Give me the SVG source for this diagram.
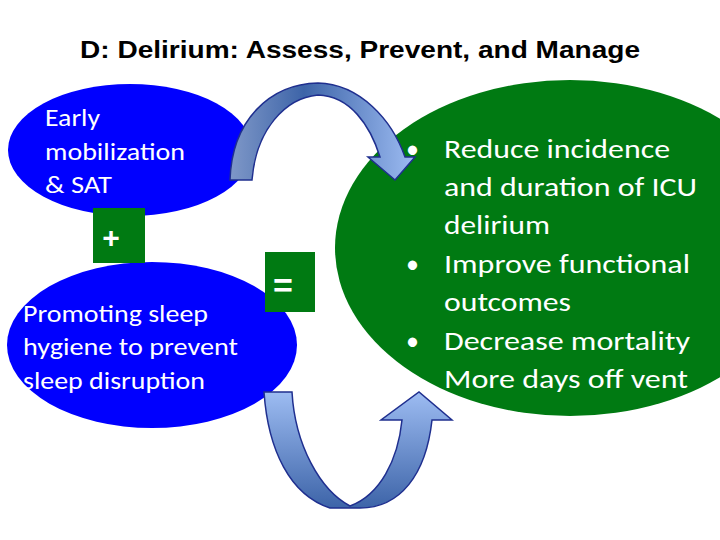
<svg xmlns="http://www.w3.org/2000/svg" width="720" height="540" viewBox="0 0 720 540">
<defs>
<linearGradient id="ga" x1="0" y1="0" x2="1" y2="0"><stop offset="0" stop-color="#7f98c8"/><stop offset="0.4" stop-color="#3d64a8"/><stop offset="1" stop-color="#9dbcf2"/></linearGradient>
<linearGradient id="gb" x1="0" y1="0" x2="0" y2="1"><stop offset="0" stop-color="#9dbcf2"/><stop offset="1" stop-color="#3d64a8"/></linearGradient>
</defs>
<style>
.t{font-family:"Liberation Sans",Arial,sans-serif}
.c{font-family:Calibri,"Carlito","Open Sans","Liberation Sans",sans-serif}
.c text{}
.arr{stroke:#1f2f8f;stroke-width:1.5}
</style>
<rect width="720" height="540" fill="#fff"/>
<text class="t" x="80" y="58" textLength="560" lengthAdjust="spacingAndGlyphs" font-size="24" font-weight="bold">D: Delirium: Assess, Prevent, and Manage</text>
<g id="outcomes"><ellipse cx="570" cy="248" rx="235" ry="168" fill="#007a12"/>
<g class="c" font-size="26" fill="#fff">
<text x="406" y="158">•</text><text x="444" y="158" textLength="226" lengthAdjust="spacingAndGlyphs">Reduce incidence</text>
<text x="444" y="196" textLength="253" lengthAdjust="spacingAndGlyphs">and duration of ICU</text>
<text x="444" y="234" textLength="106" lengthAdjust="spacingAndGlyphs">delirium</text>
<text x="406" y="273">•</text><text x="444" y="273" textLength="246" lengthAdjust="spacingAndGlyphs">Improve functional</text>
<text x="444" y="311" textLength="127" lengthAdjust="spacingAndGlyphs">outcomes</text>
<text x="406" y="350">•</text><text x="444" y="350" textLength="246" lengthAdjust="spacingAndGlyphs">Decrease mortality</text>
<text x="406" y="388">•</text><text x="444" y="388" textLength="244" lengthAdjust="spacingAndGlyphs">More days off vent</text>
</g></g>
<g id="mobilization"><ellipse cx="130" cy="150" rx="122" ry="66" fill="#0000ff"/>
<g class="c" font-size="24" fill="#fff"><text x="45" y="126" textLength="55" lengthAdjust="spacingAndGlyphs">Early</text><text x="45" y="160" textLength="140" lengthAdjust="spacingAndGlyphs">mobilization</text><text x="45" y="193" textLength="67" lengthAdjust="spacingAndGlyphs">&amp; SAT</text></g></g>
<g id="sleep"><ellipse cx="152" cy="345" rx="145" ry="83" fill="#0000ff"/>
<g class="c" font-size="24" fill="#fff"><text x="23" y="322" textLength="185" lengthAdjust="spacingAndGlyphs">Promoting sleep</text><text x="23" y="355" textLength="215" lengthAdjust="spacingAndGlyphs">hygiene to prevent</text><text x="23" y="389" textLength="182" lengthAdjust="spacingAndGlyphs">sleep disruption</text></g></g>
<g id="plus"><rect x="93" y="208" width="52" height="55" fill="#007a12"/><text class="t" x="111" y="248" text-anchor="middle" font-size="30" font-weight="bold" fill="#fff">+</text></g>
<g id="equals"><rect x="265" y="252" width="50" height="60" fill="#007a12"/><text class="t" x="283" y="297" text-anchor="middle" font-size="34" font-weight="bold" fill="#fff">=</text></g>
<g id="connectors">
<path class="arr" fill="url(#ga)" d="M230,180 C232,120 270,84 318,83 C360,84 392,120 405,157 L415,157 L395,180 L368,157 L380,157 C370,125 350,96 318,95 C285,98 256,130 252,180 Z"/>
<path class="arr" fill="url(#gb)" d="M264,392 L292,392 C295,445 320,490 350,506 C380,495 398,460 402,420 L381,420 L419,392 L452,420 L432,420 C426,475 400,508 360,508 L330,508 C290,495 268,450 264,392 Z"/>
</g>
</svg>
